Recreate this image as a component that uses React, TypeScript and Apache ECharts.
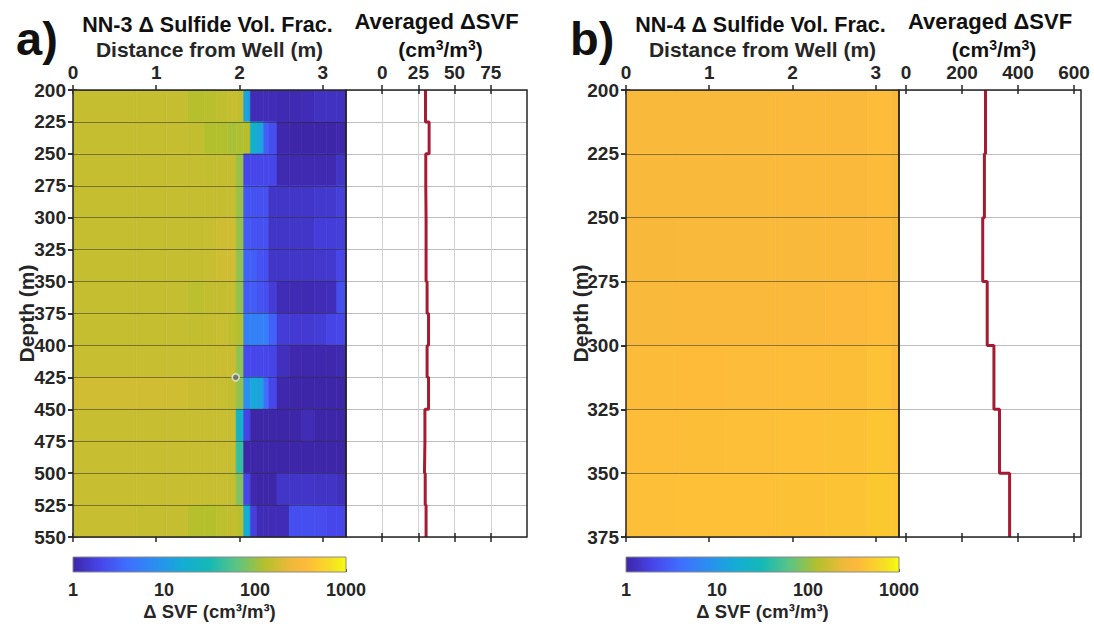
import React, { useEffect, useRef } from "react";
import * as echarts from "echarts";

// ---------------- DATA ----------------
const distEdgesA = [0, 0.76, 1.12, 1.38, 1.58, 1.72, 1.86, 1.96, 2.05, 2.13, 2.21, 2.29, 2.35, 2.45, 2.6, 2.75, 2.9, 3.05, 3.17, 3.28];
const depthEdgesA = [200, 225, 250, 275, 300, 325, 350, 375, 400, 425, 450, 475, 500, 525, 550];
// NN-3 delta sulfide volume fraction (cm3/m3), rows = depth bins, cols = distance bins
const svfA = [
  [155, 155, 155, 130, 135, 145, 160, 150, 13, 1.15, 1.15, 1.15, 1.15, 1.12, 1.12, 1.15, 1.3, 1.3, 1.3],
  [155, 155, 155, 150, 125, 125, 115, 122, 130, 20, 14, 3.1, 2.3, 1.05, 1.0, 1.0, 1.0, 1.0, 1.05],
  [155, 155, 155, 152, 150, 152, 155, 103, 2.0, 2.0, 2.0, 2.0, 2.0, 1.1, 1.1, 1.1, 1.1, 1.1, 1.4],
  [155, 155, 155, 152, 152, 155, 158, 103, 2.7, 2.4, 2.4, 2.4, 1.4, 1.4, 1.4, 1.4, 1.5, 1.5, 1.7],
  [155, 155, 155, 155, 158, 170, 172, 100, 2.9, 2.4, 2.4, 2.4, 1.4, 1.4, 1.4, 1.4, 1.65, 1.65, 1.7],
  [155, 155, 155, 155, 160, 172, 175, 95, 3.3, 3.0, 2.5, 2.3, 1.4, 1.4, 1.4, 1.4, 1.45, 1.5, 2.0],
  [155, 155, 155, 140, 150, 155, 158, 97, 2.9, 2.9, 2.5, 2.3, 1.6, 1.15, 1.12, 1.12, 1.15, 1.2, 2.3],
  [155, 155, 155, 150, 155, 160, 145, 125, 5.8, 6.0, 5.8, 5.5, 3.2, 1.6, 1.55, 1.55, 1.6, 1.9, 2.0],
  [158, 158, 158, 158, 160, 165, 165, 95, 2.1, 2.0, 2.0, 2.0, 1.9, 1.25, 1.05, 1.05, 1.05, 1.05, 1.1],
  [175, 175, 172, 165, 162, 158, 148, 97, 8.0, 14.5, 13, 4.0, 2.0, 1.05, 1.0, 1.0, 1.0, 1.0, 1.0],
  [158, 158, 158, 158, 158, 158, 158, 22, 1.9, 1.0, 1.0, 1.0, 1.0, 1.0, 1.0, 1.14, 1.0, 1.0, 1.0],
  [158, 158, 158, 158, 158, 158, 158, 43, 1.0, 1.0, 1.0, 1.0, 1.0, 1.0, 1.0, 1.0, 1.0, 1.0, 1.0],
  [158, 158, 158, 158, 158, 158, 152, 85, 2.0, 1.05, 1.0, 1.0, 1.0, 1.4, 1.4, 1.38, 1.35, 1.35, 1.25],
  [158, 155, 152, 130, 128, 140, 150, 135, 17, 1.7, 1.15, 1.15, 1.15, 1.15, 2.3, 2.3, 2.2, 2.0, 2.0],
];
const avgA = [29.9, 32.4, 30.1, 30.3, 30.3, 30.3, 31.0, 32.0, 31.0, 32.0, 29.5, 29.2, 29.7, 30.3];
const cursorA = [[1.955, 425]];

const distEdgesB = [0, 0.6, 1.2, 1.8, 2.4, 2.9, 3.19, 3.28];
const depthEdgesB = [200, 225, 250, 275, 300, 325, 350, 375];
const svfB = [
  [318, 320, 323, 328, 340, 375, 300],
  [316, 318, 320, 325, 336, 368, 295],
  [313, 316, 318, 322, 333, 362, 290],
  [322, 325, 330, 335, 346, 378, 305],
  [365, 370, 375, 380, 392, 420, 360],
  [385, 390, 395, 400, 412, 445, 400],
  [395, 400, 405, 412, 428, 470, 450],
];
const avgB = [284, 280, 274, 290, 314, 334, 370];

const distTicks = [0, 1, 2, 3];
const avgTicksA = [0, 25, 50, 75];
const avgTicksB = [0, 200, 400, 600];
const cbMajor = [1, 10, 100, 1000];
const cbMinor = [2, 3, 4, 5, 6, 7, 8, 9, 20, 30, 40, 50, 60, 70, 80, 90, 200, 300, 400, 500, 600, 700, 800, 900];

// ---------------- STYLE ----------------
const FONT = '"Liberation Sans", Arial, Helvetica, sans-serif';
const TXT = "#262626";
const PARULA: [number, string][] = [
  [0.0, "#3e26a8"],
  [0.1, "#4746eb"],
  [0.2, "#3e6ffe"],
  [0.3, "#2b8ef0"],
  [0.4, "#14acd6"],
  [0.5, "#15b9b5"],
  [0.6, "#5cc484"],
  [0.7, "#b3c02c"],
  [0.8, "#f0b93a"],
  [0.85, "#fdb93b"],
  [0.9, "#fccc2e"],
  [0.95, "#f5e024"],
  [1.0, "#f9fb0e"],
];

function hexToRgb(h: string) {
  return [parseInt(h.slice(1, 3), 16), parseInt(h.slice(3, 5), 16), parseInt(h.slice(5, 7), 16)];
}
function parula(t: number) {
  t = Math.max(0, Math.min(1, t));
  for (let i = 0; i < PARULA.length - 1; i++) {
    const [t0, c0] = PARULA[i];
    const [t1, c1] = PARULA[i + 1];
    if (t <= t1) {
      const f = (t - t0) / (t1 - t0);
      const a = hexToRgb(c0);
      const b = hexToRgb(c1);
      const r = a.map((v, k) => Math.round(v + (b[k] - v) * f));
      return `rgb(${r[0]},${r[1]},${r[2]})`;
    }
  }
  return PARULA[PARULA.length - 1][1];
}
const svfColor = (v: number) => parula(Math.log10(v) / 3);

const tickLine = { color: TXT, width: 1.5 };
const labelStyle = { color: TXT, fontSize: 19, fontWeight: "bold" as const, fontFamily: FONT };

const TOP = 90;
const H = 447;
const HEAT_W = 273;
const CB_TOP = 557;
const CB_H = 15;

type PanelCfg = {
  heatLeft: number;
  lineLeft: number;
  lineWidth: number;
  distEdges: number[];
  depthEdges: number[];
  svf: number[][];
  avg: number[];
  avgMin: number;
  avgMax: number;
  avgInterval?: number;
  avgTicks: number[];
  avgVGrid: boolean;
  cursor?: number[][];
  letter: string;
  letterX: number;
  title: string;
  depthLabelX: number;
};

function buildPanel(cfg: PanelCfg, gBase: number, xBase: number, yBase: number) {
  const dMin = cfg.depthEdges[0];
  const dMax = cfg.depthEdges[cfg.depthEdges.length - 1];
  const distMax = cfg.distEdges[cfg.distEdges.length - 1];
  const gridCommon = { containLabel: false, outerBoundsMode: "none", show: true, z: 10, backgroundColor: "transparent" };
  const grids = [
    { ...gridCommon, left: cfg.heatLeft, top: TOP, width: HEAT_W, height: H, borderColor: TXT, borderWidth: 1.5 },
    { ...gridCommon, left: cfg.lineLeft, top: TOP, width: cfg.lineWidth, height: H, borderColor: TXT, borderWidth: 1.5 },
    { ...gridCommon, left: cfg.heatLeft, top: CB_TOP, width: HEAT_W, height: CB_H, borderColor: "#8a8a8a", borderWidth: 1 },
  ];
  const xAxes: any[] = [
    {
      gridIndex: gBase, type: "value", position: "top", min: 0, max: distMax, offset: -4,
      axisLine: { show: false },
      axisTick: { show: true, inside: false, length: 9, customValues: distTicks, lineStyle: tickLine },
      axisLabel: { show: true, customValues: distTicks, margin: 12, ...labelStyle },
      splitLine: { show: false },
    },
    {
      gridIndex: gBase, type: "value", position: "bottom", min: 0, max: distMax, offset: -4,
      axisLine: { show: false },
      axisTick: { show: true, inside: false, length: 9, customValues: distTicks, lineStyle: tickLine },
      axisLabel: { show: false },
      splitLine: { show: false },
    },
    {
      gridIndex: gBase + 1, type: "value", position: "top", min: cfg.avgMin, max: cfg.avgMax,
      ...(cfg.avgInterval ? { interval: cfg.avgInterval } : {}),
      offset: -4,
      axisLine: { show: false },
      axisTick: { show: true, inside: false, length: 9, customValues: cfg.avgTicks, lineStyle: tickLine },
      axisLabel: { show: true, customValues: cfg.avgTicks, margin: 12, ...labelStyle },
      splitLine: { show: cfg.avgVGrid, lineStyle: { color: "#d2d2d2", width: 1 } },
    },
    {
      gridIndex: gBase + 1, type: "value", position: "bottom", min: cfg.avgMin, max: cfg.avgMax, offset: -4,
      axisLine: { show: false },
      axisTick: { show: true, inside: false, length: 9, customValues: cfg.avgTicks, lineStyle: tickLine },
      axisLabel: { show: false },
      splitLine: { show: false },
    },
    {
      gridIndex: gBase + 2, type: "value", position: "bottom", min: 0, max: 3, interval: 1,
      axisLine: { show: false },
      axisTick: {
        show: true, inside: true, length: 3,
        customValues: [...cbMajor, ...cbMinor].map((v) => Math.log10(v)),
        lineStyle: { color: "#333", width: 1 },
      },
      axisLabel: {
        show: true, customValues: cbMajor.map((v) => Math.log10(v)), margin: 9,
        formatter: (v: number) => String(Math.round(Math.pow(10, v))),
        ...labelStyle, fontSize: 18,
      },
      splitLine: { show: false },
    },
  ];
  const yAxes: any[] = [
    {
      gridIndex: gBase, type: "value", position: "left", inverse: true, min: dMin, max: dMax, interval: 25, offset: -4,
      axisLine: { show: false },
      axisTick: { show: true, inside: false, length: 9, lineStyle: tickLine },
      axisLabel: { show: true, margin: 11, ...labelStyle },
      splitLine: { show: false },
    },
    {
      gridIndex: gBase, type: "value", position: "right", inverse: true, min: dMin, max: dMax, interval: 25, z: 5,
      axisLine: { show: false },
      axisTick: { show: true, inside: true, length: 5, lineStyle: tickLine },
      axisLabel: { show: false },
      splitLine: { show: true, lineStyle: { color: "rgba(40,40,40,0.5)", width: 1 } },
    },
    {
      gridIndex: gBase + 1, type: "value", position: "left", inverse: true, min: dMin, max: dMax, interval: 25,
      axisLine: { show: false },
      axisTick: { show: false },
      axisLabel: { show: false },
      splitLine: { show: true, lineStyle: { color: "#bdbdbd", width: 1 } },
    },
    {
      gridIndex: gBase + 2, type: "value", min: 0, max: 1,
      axisLine: { show: false }, axisTick: { show: false }, axisLabel: { show: false }, splitLine: { show: false },
    },
  ];

  const cells: number[][] = [];
  cfg.svf.forEach((row, r) => {
    row.forEach((v, c) => {
      cells.push([cfg.distEdges[c], cfg.distEdges[c + 1], cfg.depthEdges[r], cfg.depthEdges[r + 1], v]);
    });
  });
  const steps: number[][] = [];
  cfg.avg.forEach((v, i) => {
    steps.push([v, cfg.depthEdges[i]]);
    steps.push([v, cfg.depthEdges[i + 1]]);
  });

  const series: any[] = [
    {
      type: "custom", coordinateSystem: "cartesian2d", xAxisIndex: xBase, yAxisIndex: yBase,
      data: cells, encode: { x: [0, 1], y: [2, 3] }, clip: true, silent: true, z: 2,
      renderItem: (_p: any, api: any) => {
        const a = api.coord([api.value(0), api.value(2)]);
        const b = api.coord([api.value(1), api.value(3)]);
        const fill = svfColor(api.value(4));
        return {
          type: "rect",
          shape: { x: Math.min(a[0], b[0]), y: Math.min(a[1], b[1]), width: Math.abs(b[0] - a[0]), height: Math.abs(b[1] - a[1]) },
          style: { fill, stroke: fill, lineWidth: 0.6 },
        };
      },
    },
    {
      type: "line", xAxisIndex: xBase + 2, yAxisIndex: yBase + 2, data: steps,
      symbol: "none", showSymbol: false, clip: true, z: 4,
      lineStyle: { color: "#a51b33", width: 3 },
    },
    {
      type: "custom", coordinateSystem: "cartesian2d", xAxisIndex: xBase + 4, yAxisIndex: yBase + 3,
      data: [[Math.log10(cbMajor[0]), Math.log10(cbMajor[cbMajor.length - 1])]], encode: { x: [0, 1] }, silent: true,
      renderItem: (_p: any, api: any) => {
        const a = api.coord([api.value(0), 0]);
        const b = api.coord([api.value(1), 1]);
        const stops = PARULA.map(([o, c]) => ({ offset: o, color: c }));
        return {
          type: "rect",
          shape: { x: a[0], y: Math.min(a[1], b[1]), width: b[0] - a[0], height: Math.abs(b[1] - a[1]) },
          style: { fill: { type: "linear", x: 0, y: 0, x2: 1, y2: 0, colorStops: stops } },
        };
      },
    },
  ];
  if (cfg.cursor) {
    series.push({
      type: "scatter", xAxisIndex: xBase, yAxisIndex: yBase, data: cfg.cursor, symbolSize: 7, z: 6, silent: true,
      itemStyle: { color: "#6e6e6e", borderColor: "#f2f2f2", borderWidth: 1.5 },
    });
  }

  const heatC = cfg.heatLeft + HEAT_W / 2;
  const lineC = cfg.lineLeft + cfg.lineWidth / 2;
  const txt = (text: string, x: number, y: number, size: number, color = "#111", extra: any = {}) => ({
    type: "text", x, y, z: 20, silent: true, ...extra,
    style: {
      text, fill: color, font: `bold ${size}px ${FONT}`,
      align: extra.align || "center", verticalAlign: "middle",
      textAlign: extra.align || "center", textVerticalAlign: "middle",
    },
  });
  const graphics: any[] = [
    txt(cfg.letter, cfg.letterX, 38, 47, "#111", { align: "left" }),
    txt(cfg.title, heatC - 2, 24.5, 21.5, "#111"),
    txt("Distance from Well (m)", heatC, 49, 21, TXT),
    txt("Averaged \u0394SVF", lineC, 21, 22, "#111"),
    {
      type: "text", x: lineC + 4, y: 49, z: 20, silent: true,
      style: {
        text: "{n|(cm}{s|3}{n|/m}{s|3}{n|)}",
        align: "center", verticalAlign: "middle", textAlign: "center", textVerticalAlign: "middle",
        rich: {
          n: { fontSize: 21, fontWeight: "bold", fontFamily: FONT, fill: "#111", lineHeight: 23 },
          s: { fontSize: 14, fontWeight: "bold", fontFamily: FONT, fill: "#111", lineHeight: 12, verticalAlign: "top" },
        },
      },
    },
    { ...txt("Depth (m)", cfg.depthLabelX, TOP + H / 2, 21, TXT), rotation: Math.PI / 2 },
    txt("\u0394 SVF (cm\u00b3/m\u00b3)", heatC, 611, 18.5, TXT),
  ];
  return { grids, xAxes, yAxes, series, graphics };
}

export default function App() {
  const ref = useRef<HTMLDivElement>(null);
  useEffect(() => {
    if (!ref.current) return;
    const chart = echarts.init(ref.current, undefined, { renderer: "svg" });
    const pa = buildPanel(
      {
        heatLeft: 73, lineLeft: 346, lineWidth: 181,
        distEdges: distEdgesA, depthEdges: depthEdgesA, svf: svfA, avg: avgA,
        avgMin: -25, avgMax: 100, avgInterval: 25, avgTicks: avgTicksA, avgVGrid: true,
        cursor: cursorA, letter: "a)", letterX: 16, title: "NN-3 \u0394 Sulfide Vol. Frac.", depthLabelX: 26,
      },
      0, 0, 0
    );
    const pb = buildPanel(
      {
        heatLeft: 626, lineLeft: 899, lineWidth: 182,
        distEdges: distEdgesB, depthEdges: depthEdgesB, svf: svfB, avg: avgB,
        avgMin: -25, avgMax: 625, avgTicks: avgTicksB, avgVGrid: false,
        letter: "b)", letterX: 570, title: "NN-4 \u0394 Sulfide Vol. Frac.", depthLabelX: 580,
      },
      3, 5, 4
    );
    chart.setOption({
      animation: false,
      backgroundColor: "#ffffff",
      textStyle: { fontFamily: FONT },
      grid: [...pa.grids, ...pb.grids],
      xAxis: [...pa.xAxes, ...pb.xAxes],
      yAxis: [...pa.yAxes, ...pb.yAxes],
      series: [...pa.series, ...pb.series],
      graphic: [...pa.graphics, ...pb.graphics],
    });
    return () => chart.dispose();
  }, []);
  return <div ref={ref} style={{ position: "fixed", left: 0, top: 0, width: 1094, height: 624 }} />;
}
